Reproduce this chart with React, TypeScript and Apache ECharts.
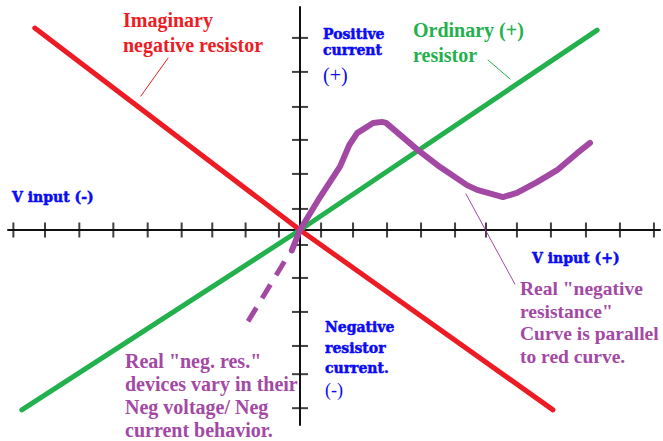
import React, { useEffect, useRef } from 'react';
import * as echarts from 'echarts';

const WIDTH = 663;
const HEIGHT = 441;

// Axis extents in divisions (one division = one tick step)
const X_MIN = -8.588;
const X_MAX = 10.588;
const Y_MIN = -5.735;
const Y_MAX = 6.559;

// Hand-placed tick marks along each axis
const xTickValues = [-8.43, -7.5, -6.49, -5.49, -4.48, -3.48, -2.58, -1.6, -0.62, 0.62, 1.56, 2.56, 3.56, 4.56, 5.47, 6.38, 7.38, 8.41, 9.41, 10.41];
const yTickValues = [5.65, 4.65, 3.62, 2.65, 1.65, 0.62, -0.44, -1.41, -2.41, -3.41, -4.24, -5.24];

// I–V characteristics [voltage, current]
const imaginaryNegative = [[-7.8, 5.94], [0, 0], [7.44, -5.29]];
const ordinaryResistor = [[-8.18, -5.29], [0, 0], [8.74, 5.88]];
const realNegativeCurve = [
  [-0.24, -0.6], [0, 0], [0.59, 0.97], [1.18, 1.87], [1.45, 2.5], [1.68, 2.85],
  [2.15, 3.15], [2.41, 3.18], [2.53, 3.15], [3.47, 2.35], [4.12, 1.85], [4.91, 1.32],
  [5.21, 1.18], [5.97, 0.97], [6.38, 1.09], [6.97, 1.41], [7.56, 1.76], [8.15, 2.26], [8.53, 2.56],
];
const realNegativeVarying = [[-0.29, -0.65], [-1.56, -2.74]];

// Leader lines from the notes to their curves
const redLeader = [[-4.68, 3.94], [-3.88, 5.06]];
const greenLeader = [[5.53, 5.0], [6.18, 4.44]];
const purpleLeader = [[4.88, 1.06], [6.32, -1.59]];

const RED = '#ed1c24';
const GREEN = '#22b14c';
const PURPLE = '#a349a4';
const BLUE = '#0a0af5';

const SERIF = '"Liberation Serif", "Times New Roman", serif';
const HEAVY = '"DejaVu Serif", serif';

type Note = {
  lines: string[];
  x: number;
  baseline: number;
  step: number;
  size: number;
  weight: string;
  family: string;
  color: string;
  heavy?: boolean;
};

const notes: Note[] = [
  { lines: ['Imaginary', 'negative resistor'], x: 123, baseline: 26.7, step: 25, size: 20, weight: 'bold', family: SERIF, color: RED },
  { lines: ['Ordinary (+)', 'resistor'], x: 413, baseline: 36.7, step: 25, size: 20, weight: 'bold', family: SERIF, color: GREEN },
  { lines: ['Positive', 'current'], x: 323, baseline: 38.3, step: 16.7, size: 14, weight: 'bold', family: HEAVY, color: BLUE, heavy: true },
  { lines: ['(+)'], x: 323, baseline: 82, step: 0, size: 20, weight: 'normal', family: SERIF, color: BLUE },
  { lines: ['V input (-)'], x: 12, baseline: 202, step: 0, size: 14, weight: 'bold', family: HEAVY, color: BLUE, heavy: true },
  { lines: ['V input (+)'], x: 532, baseline: 263, step: 0, size: 14, weight: 'bold', family: HEAVY, color: BLUE, heavy: true },
  { lines: ['Negative', 'resistor', 'current.'], x: 325, baseline: 331.5, step: 20.8, size: 14, weight: 'bold', family: HEAVY, color: BLUE, heavy: true },
  { lines: ['(-)'], x: 325, baseline: 396, step: 0, size: 18, weight: 'normal', family: SERIF, color: BLUE },
  { lines: ['Real "neg. res."', 'devices vary in their', 'Neg voltage/ Neg', 'current behavior.'], x: 125, baseline: 367.7, step: 23, size: 20, weight: 'bold', family: SERIF, color: PURPLE },
  { lines: ['Real "negative', 'resistance"', 'Curve is parallel', 'to red curve.'], x: 520, baseline: 295, step: 22.7, size: 19.5, weight: 'bold', family: SERIF, color: PURPLE },
];

function noteElements(): any[] {
  const out: any[] = [];
  notes.forEach((n) => {
    n.lines.forEach((line, i) => {
      const baseline = n.baseline + i * n.step;
      out.push({
        type: 'text',
        x: n.x,
        y: baseline - 0.34 * n.size,
        silent: true,
        style: {
          text: line,
          font: `${n.weight} ${n.size}px ${n.family}`,
          fill: n.color,
          stroke: n.heavy ? n.color : undefined,
          lineWidth: n.heavy ? 0.5 : 0,
          textAlign: 'left',
          align: 'left',
          textVerticalAlign: 'middle',
          verticalAlign: 'middle',
        },
      });
    });
  });
  return out;
}

function lineSeries(data: number[][], color: string, width: number, extra: any = {}) {
  return {
    type: 'line',
    data,
    symbol: 'none',
    silent: true,
    lineStyle: { color, width, cap: 'round', join: 'round', ...extra },
  };
}

export default function App() {
  const ref = useRef<HTMLDivElement>(null);

  useEffect(() => {
    if (!ref.current) return;
    const chart = echarts.init(ref.current, undefined, { renderer: 'svg' });

    const axisCommon = {
      type: 'value',
      axisLine: { show: true, onZero: true, lineStyle: { color: '#111', width: 2 } },
      axisTick: { show: false },
      axisLabel: { show: false },
      splitLine: { show: false },
    };

    chart.setOption({
      animation: false,
      backgroundColor: '#ffffff',
      grid: { left: 8, right: 3, top: 7, bottom: 16 },
      xAxis: { ...axisCommon, min: X_MIN, max: X_MAX },
      yAxis: { ...axisCommon, min: Y_MIN, max: Y_MAX },
      series: [
        {
          type: 'scatter',
          silent: true,
          z: 1,
          symbol: 'rect',
          symbolSize: [2, 15],
          itemStyle: { color: '#111' },
          data: xTickValues.map((v) => [v, 0]),
        },
        {
          type: 'scatter',
          silent: true,
          z: 1,
          symbol: 'rect',
          symbolSize: [16, 2],
          itemStyle: { color: '#111' },
          data: yTickValues.map((v) => [0, v]),
        },
        lineSeries(redLeader, RED, 1),
        lineSeries(greenLeader, GREEN, 1),
        lineSeries(purpleLeader, PURPLE, 1),
        lineSeries(ordinaryResistor, GREEN, 5),
        lineSeries(imaginaryNegative, RED, 5),
        lineSeries(realNegativeVarying, PURPLE, 5, { type: [16, 11], dashOffset: 16, cap: 'butt' }),
        lineSeries(realNegativeCurve, PURPLE, 6),
      ],
      graphic: noteElements(),
    });

    return () => chart.dispose();
  }, []);

  return (
    <div
      ref={ref}
      style={{ position: 'fixed', left: 0, top: 0, width: WIDTH, height: HEIGHT, background: '#fff' }}
    />
  );
}
